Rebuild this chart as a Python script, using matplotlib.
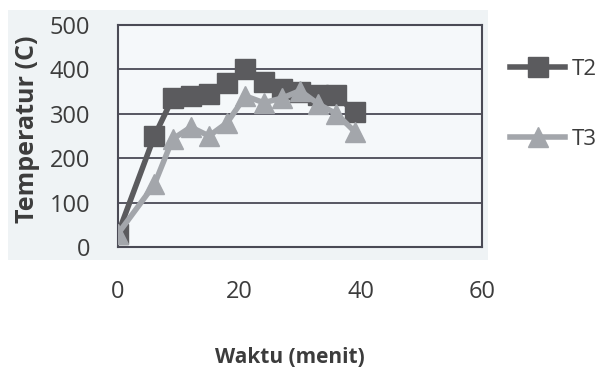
import matplotlib.pyplot as plt
from matplotlib.lines import Line2D

# data
waktu = [0, 6, 9, 12, 15, 18, 21, 24, 27, 30, 33, 36, 39]
t2 = [30, 250, 335, 340, 345, 370, 400, 372, 355, 348, 342, 342, 303]
t3 = [30, 141, 243, 270, 250, 280, 340, 325, 335, 352, 322, 300, 260]
x_ticks = [0, 20, 40, 60]
y_ticks = [0, 100, 200, 300, 400, 500]

c_t2 = '#5b5b5e'
c_t3 = '#a3a6ab'
txt = '#3c3c3c'
frame = '#4a4a55'

plt.rcParams['font.family'] = ['Open Sans', 'DejaVu Sans']

fig = plt.figure(figsize=(6, 3.67), dpi=100, facecolor='white')

# light panel behind everything, like the scanned excel chart
bg = fig.add_axes([0.013, 0.292, 0.8, 0.681])
bg.set_facecolor('#eff3f5')
bg.set_xticks([])
bg.set_yticks([])
for s in bg.spines.values():
    s.set_visible(False)

ax = fig.add_axes([0.1967, 0.327, 0.6067, 0.605])
ax.set_facecolor('#f5f8fa')

ax.plot(waktu, t2, color=c_t2, lw=4, marker='s', ms=14, mec=c_t2, zorder=3)
ax.plot(waktu, t3, color=c_t3, lw=4, marker='^', ms=15, mec=c_t3, zorder=4)

ax.set_xlim(0, 60)
ax.set_ylim(0, 500)
ax.set_xticks(x_ticks)
ax.set_yticks(y_ticks)
ax.grid(axis='y', color=frame, lw=1.3)
ax.set_axisbelow(True)

for s in ax.spines.values():
    s.set_color(frame)
    s.set_linewidth(1.5)

ax.tick_params(length=0, labelsize=17, labelcolor=txt)
ax.tick_params(axis='x', pad=24)
ax.tick_params(axis='y', pad=20)

ax.set_ylabel('Temperatur (C)', fontsize=18, fontweight='bold', color=txt)
ax.yaxis.set_label_coords(-0.215, 0.53)
ax.set_xlabel('Waktu (menit)', fontsize=15, fontweight='bold', color=txt)
ax.xaxis.set_label_coords(0.473, -0.45)

handles = [Line2D([], [], color=c_t2, lw=4, marker='s', ms=14),
           Line2D([], [], color=c_t3, lw=4, marker='^', ms=15)]
fig.legend(handles, ['T2', 'T3'], loc='upper left', bbox_to_anchor=(0.835, 0.864),
           borderaxespad=0, frameon=False, fontsize=16, handlelength=2.5,
           handletextpad=0.3, labelspacing=2.2, labelcolor=txt)

fig.savefig('out.png', dpi=100, facecolor='white')
